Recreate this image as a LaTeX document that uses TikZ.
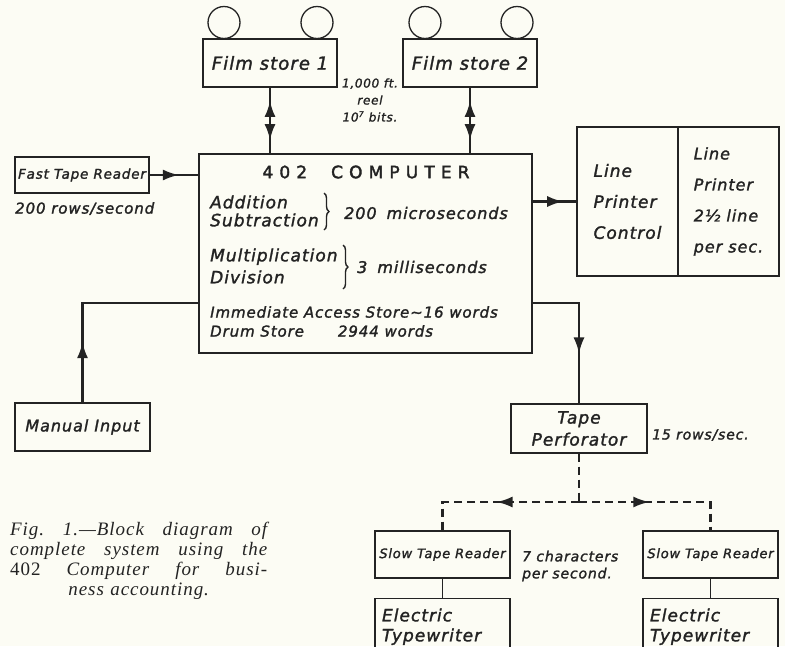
\documentclass[tikz,border=0pt]{standalone}
\usepackage{fontspec}
\usepackage{xcolor}
\usepackage{tikz}
\usetikzlibrary{arrows.meta,decorations.markings,decorations.pathreplacing}

\newfontfamily\handfont[LetterSpace=6,FakeBold=1.6]{DejaVu Sans}
\newfontfamily\headfont[LetterSpace=36,FakeBold=2.2]{DejaVu Sans}
\newfontfamily\capfont[LetterSpace=5]{Liberation Serif}
\newcommand\handsz[2]{\handfont\itshape\fontsize{#1}{#2}\selectfont}

\definecolor{ink}{HTML}{232323}
\definecolor{paper}{HTML}{FCFCF4}

\tikzset{
  box/.style={draw=ink, line width=1.3pt, inner sep=0pt, text=ink},
  lbl/.style={inner sep=0pt, text=ink},
  wire/.style={draw=ink, line width=2.2pt},
  headat/.style={postaction={decorate, decoration={markings,
      mark=at position #1 with {\arrow{Latex[length=16pt,width=11pt]}}}}},
  tailat/.style={postaction={decorate, decoration={markings,
      mark=at position #1 with {\arrowreversed{Latex[length=16pt,width=11pt]}}}}},
  curly/.style={draw=ink, line width=1.4pt, decorate, decoration={brace, amplitude=5pt}},
}

\begin{document}
\begin{tikzpicture}[x=1pt,y=-1pt]
  \useasboundingbox (0,0) rectangle (785,646);
  \fill[paper] (0,0) rectangle (785,646);
  \clip (0,0) rectangle (785,646);

  % film stores
  \node[box, minimum width=134pt, minimum height=48pt, font=\handsz{18}{20}] (film1) at (270,63) {Film store 1};
  \node[box, minimum width=134pt, minimum height=48pt, font=\handsz{18}{20}] (film2) at (470,63) {Film store 2};
  \foreach \x in {224,317,425,517}
    \draw[ink, line width=1.3pt] (\x,22.5) circle (16pt);
  \node[lbl, align=center, font=\handsz{12}{17}] (reel) at (370,100) {1,000 ft.\\reel\\10\textsuperscript{7} bits.};

  % computer
  \node[box, minimum width=333pt, minimum height=199pt] (cpu) at (365.5,253.5) {};
  \node[lbl, font=\headfont\fontsize{17}{18}\selectfont] (cpuname) at (366,172) {402\hspace{24pt}COMPUTER};
  \node[lbl, anchor=west, align=left, font=\handsz{17}{18}] (addsub) at (210,211) {Addition\\Subtraction};
  \draw[curly] (324,193) -- (324,230);
  \node[lbl, anchor=west, font=\handsz{16}{17}] (addtime) at (344,213) {200\hspace{10pt}microseconds};
  \node[lbl, anchor=west, align=left, font=\handsz{17}{22}] (muldiv) at (210,266) {Multiplication\\Division};
  \draw[curly] (343,245) -- (343,289);
  \node[lbl, anchor=west, font=\handsz{16}{17}] (multime) at (357,267) {3\hspace{10pt}milliseconds};
  \node[lbl, anchor=west, font=\handsz{15}{17}] (ias) at (210,312) {Immediate Access Store\textasciitilde16 words};
  \node[lbl, anchor=west, font=\handsz{15}{17}] (drum) at (210,331) {Drum Store\hspace{34pt}2944 words};

  \draw[wire, line width=2.6pt, tailat=0.2, headat=0.8] (film1.south) -- (film1.south |- cpu.north);
  \draw[wire, line width=2.6pt, tailat=0.2, headat=0.8] (film2.south) -- (film2.south |- cpu.north);

  % fast tape reader
  \node[box, minimum width=134pt, minimum height=36pt, font=\handsz{13.5}{16}] (ftr) at (82,175) {Fast Tape Reader};
  \node[lbl, anchor=north west, font=\handsz{15}{17}] (ftrrate) at (15,202) {200 rows/second};
  \draw[wire, headat=0.6] (ftr.east) -- (ftr.east -| cpu.west);

  % line printer
  \node[box, minimum width=101pt, minimum height=149pt, align=left, font=\handsz{17}{31}] (lpc) at (627.5,201.5) {Line\\Printer\\Control};
  \node[box, minimum width=101pt, minimum height=149pt, align=left, font=\handsz{16}{31}] (lpr) at (728.5,201.5) {Line\\Printer\\2½ line\\per sec.};
  \draw[wire, headat=0.7] (lpc.west -| cpu.east) -- (lpc.west);

  % manual input and tape perforator
  \coordinate (io) at (0,303);
  \node[box, minimum width=135pt, minimum height=48pt, font=\handsz{16}{18}] (mi) at (82.5,427) {Manual Input\hspace{10pt}};
  \draw[wire, headat=0.28] (mi.north) |- (io -| cpu.west);
  \node[box, minimum width=136pt, minimum height=49pt, align=center, font=\handsz{17}{22}] (tp) at (579,428.5) {Tape\\Perforator};
  \node[lbl, anchor=west, font=\handsz{14}{16}] (tprate) at (652,435) {15 rows/sec.};
  \draw[wire, headat=0.66] (io -| cpu.east) -| (tp.north);

  % slow tape readers and typewriters
  \node[box, minimum width=135pt, minimum height=47pt, font=\handsz{13}{15}] (str1) at (442.5,554.5) {Slow Tape Reader};
  \node[box, minimum width=135pt, minimum height=47pt, font=\handsz{13}{15}] (str2) at (710.5,554.5) {Slow Tape Reader};
  \node[lbl, anchor=west, align=left, font=\handsz{14}{17}] (strrate) at (522,566) {7 characters\\per second.};
  \node[box, anchor=north, minimum width=135pt, minimum height=56pt, text width=121pt, align=left, font=\handsz{17}{20}] (et1) at (442.5,598) {Electric\\Typewriter};
  \node[box, anchor=north, minimum width=135pt, minimum height=56pt, text width=121pt, align=left, font=\handsz{17}{20}] (et2) at (710.5,598) {Electric\\Typewriter};
  \draw[wire, line width=1.6pt] (str1) -- (et1);
  \draw[wire, line width=1.6pt] (str2) -- (et2);

  \coordinate (fork) at (tp.south |- 0,502);
  \draw[wire, dash pattern=on 8pt off 5pt] (tp.south) -- (fork);
  \draw[wire, dash pattern=on 8pt off 5pt, headat=0.5] (fork) -| (str1.north);
  \draw[wire, dash pattern=on 8pt off 5pt, headat=0.44] (fork) -| (str2.north);

  % caption
  \node[lbl, anchor=north west, text width=257pt, align=center, font=\capfont\itshape\fontsize{19}{20}\selectfont] (caption) at (10,522)
    {\makebox[257pt]{Fig.\hfill 1.—Block\hfill diagram\hfill of}\\
     \makebox[257pt]{complete\hfill system\hfill using\hfill the}\\
     \makebox[257pt]{{\upshape 402}\hfill Computer\hfill for\hfill busi-}\\
     ness accounting.};
\end{tikzpicture}
\end{document}
